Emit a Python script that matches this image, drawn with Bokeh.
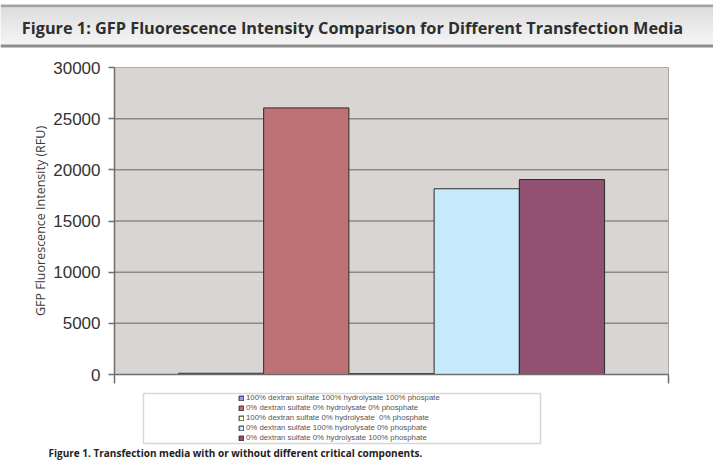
import numpy as np
from bokeh.plotting import figure
from bokeh.models import (Range1d, FixedTicker, BoxAnnotation, Label, Legend,
                          LegendItem, ColumnDataSource, LinearAxis)
from bokeh.embed import file_html
from bokeh.resources import INLINE

# ---------------- data ----------------
title_text = "Figure 1: GFP Fluorescence Intensity Comparison for Different Transfection Media"
caption_text = "Figure 1. Transfection media with or without different critical components."
y_label = "GFP Fluorescence Intensity (RFU)"
series_names = [
    "100% dextran sulfate 100% hydrolysate 100% phospate",
    "0% dextran sulfate 0% hydrolysate 0% phosphate",
    "100% dextran sulfate 0% hydrolysate  0% phosphate",
    "0% dextran sulfate 100% hydrolysate 0% phosphate",
    "0% dextran sulfate 0% hydrolysate 100% phosphate",
]
series_values = [120, 26050, 90, 18150, 19050]
series_colors = ["#9999FF", "#BD7276", "#FFFFCC", "#C6E9FB", "#925171"]
y_ticks = [0, 5000, 10000, 15000, 20000, 25000, 30000]

# ---------------- layout (page pixels) ----------------
W, H = 713, 465
FL, FR, FT, FB = 114, 668, 67, 374   # plot-area edges on the page
YMAX = 30000


def xd(px):
    return (px - FL) / (FR - FL)


def yd(py):
    return (FB - py) / (FB - FT) * YMAX


p = figure(width=W, height=H, x_range=Range1d(xd(0), xd(W)), y_range=Range1d(yd(H), yd(0)),
           x_axis_type=None, y_axis_type=None, min_border=0,
           toolbar_location=None, output_backend="svg", title=None)
p.background_fill_color = "white"
p.border_fill_color = "white"
p.outline_line_alpha = 0

# plot area background + border
p.quad(left=0, right=1, bottom=0, top=YMAX, fill_color="#D9D5D2",
       line_color="#A8A8A8", line_width=1)

# gridlines
grid_y = y_ticks[1:-1]
p.segment(x0=[0] * len(grid_y), x1=[1] * len(grid_y), y0=grid_y, y1=grid_y,
          line_color="#8A8A8A", line_width=1.5)

# bars
n = len(series_values)
w = 1.0 / (n + 1.5)
centers = 0.75 * w + (np.arange(n) + 0.5) * w
src = ColumnDataSource(dict(x=centers, top=series_values, color=series_colors,
                            label=series_names))
r = p.vbar(x="x", top="top", width=w, bottom=0, source=src,
           fill_color="color", line_color="#2B2B2B", line_width=1)

# y axis
ya = LinearAxis(fixed_location=0, bounds=(0, YMAX), ticker=FixedTicker(ticks=y_ticks))
ya.major_tick_out = 6
ya.major_tick_in = 0
ya.minor_tick_out = 0
ya.minor_tick_in = 0
ya.major_label_standoff = 8
ya.major_label_text_font = "Liberation Sans"
ya.major_label_text_font_size = "17px"
ya.major_label_text_color = "#333333"
ya.axis_line_color = "#6E6E6E"
ya.axis_line_width = 1.5
ya.major_tick_line_color = "#6E6E6E"
ya.major_tick_line_width = 1.5
ya.axis_label = y_label
ya.axis_label_text_font = "Open Sans"
ya.axis_label_text_font_size = "12.5px"
ya.axis_label_text_font_style = "normal"
ya.axis_label_text_color = "#3A3A3A"
ya.axis_label_standoff = 1
p.add_layout(ya, "left")

# x axis (only end ticks)
xa = LinearAxis(fixed_location=0, bounds=(0, 1), ticker=FixedTicker(ticks=[0, 1]))
xa.major_label_overrides = {0: "", 1: ""}
xa.major_tick_out = 9
xa.major_tick_in = 0
xa.minor_tick_out = 0
xa.minor_tick_in = 0
xa.axis_line_color = "#6E6E6E"
xa.axis_line_width = 1.5
xa.major_tick_line_color = "#6E6E6E"
xa.major_tick_line_width = 1.5
p.add_layout(xa, "below")

# legend
items = [LegendItem(label=nm, renderers=[r], index=i) for i, nm in enumerate(series_names)]
legend = Legend(items=items, location=(238, H - 442),
                label_text_font="Liberation Sans", label_text_font_size="7.8px",
                label_text_color="#555555", glyph_width=6, glyph_height=6,
                label_height=9, label_standoff=2, spacing=1, padding=0, margin=0,
                border_line_alpha=0, background_fill_alpha=0)
p.add_layout(legend)

p.add_layout(BoxAnnotation(left=xd(143), right=xd(540), top=yd(393), bottom=yd(443),
                           fill_alpha=0, line_color="#7A7A7A", line_width=1.5))

# title banner
p.add_layout(BoxAnnotation(left=xd(0), right=xd(W), top=yd(4), bottom=yd(7),
                           fill_color="#A3A3A3", fill_alpha=1, line_alpha=0))
steps = 37
for k in range(steps):
    t = k / (steps - 1)
    g = int(round(0xD8 + (0xF3 - 0xD8) * t))
    col = "#%02X%02X%02X" % (g, g, g)
    top = 7 + k
    p.add_layout(BoxAnnotation(left=xd(0), right=xd(W), top=yd(top), bottom=yd(top + 1.2),
                               fill_color=col, fill_alpha=1, line_alpha=0))
p.add_layout(BoxAnnotation(left=xd(0), right=xd(W), top=yd(44), bottom=yd(47),
                           fill_color="#8C8C8C", fill_alpha=1, line_alpha=0))

p.add_layout(Label(x=xd(352), y=yd(27), text=title_text, text_align="center",
                   text_baseline="middle", text_font="Open Sans", text_font_size="16.3px",
                   text_font_style="bold", text_color="#2E2E2E"))

p.add_layout(Label(x=xd(48), y=yd(452), text=caption_text, text_align="left",
                   text_baseline="middle", text_font="Open Sans", text_font_size="10px",
                   text_font_style="bold", text_color="#222222"))

open("out.html", "w").write(file_html(p, INLINE))
